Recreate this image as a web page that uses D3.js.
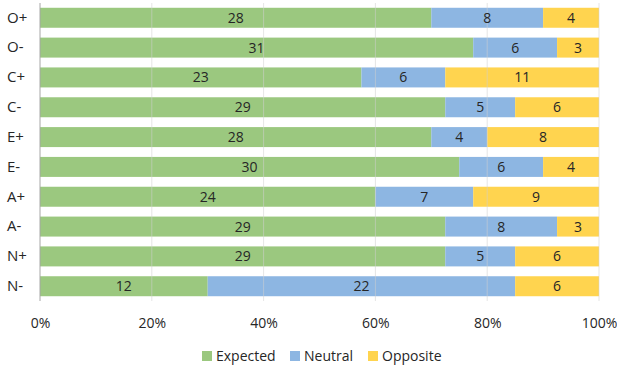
<!DOCTYPE html>
<html><head><meta charset="utf-8">
<script src="https://cdn.jsdelivr.net/npm/d3@7"></script>
<style>body{margin:0;background:#fff}text{font-family:"Open Sans","Noto Sans",sans-serif}</style>
</head><body><svg id="c" width="617" height="368"></svg>
<script>
const categories = ["O+","O-","C+","C-","E+","E-","A+","A-","N+","N-"];
const seriesNames = ["Expected","Neutral","Opposite"];
const expected = [28,31,23,29,28,30,24,29,29,12];
const neutral  = [8,6,6,5,4,6,7,8,5,22];
const opposite = [4,3,11,6,8,4,9,3,6,6];
const tickLabels = ["0%","20%","40%","60%","80%","100%"];
const colors = ["#9bc87f","#8db6e2","#ffd44f"];

const svg = d3.select("#c");
const m = {l:40, r:18, t:3, b:67};
const W = 617, H = 368;
const x = d3.scaleLinear().domain([0,1]).range([m.l, W-m.r]);
const y = d3.scaleBand().domain(categories).range([m.t, H-m.b]).paddingInner(0.33).paddingOuter(0.16);
const series = [expected, neutral, opposite];
const data = categories.map((c,i)=>{
  const tot = expected[i]+neutral[i]+opposite[i];
  let acc = 0;
  return series.map((s,k)=>{ const o={cat:c,k,v:s[i],x0:acc/tot,x1:(acc+s[i])/tot}; acc+=s[i]; return o;});
}).flat();

svg.append("g").selectAll("rect").data(data).join("rect")
  .attr("x",d=>x(d.x0)).attr("width",d=>x(d.x1)-x(d.x0))
  .attr("y",d=>y(d.cat)).attr("height",y.bandwidth())
  .attr("fill",d=>colors[d.k]);

// grid lines
svg.append("g").selectAll("line").data([0.2,0.4,0.6,0.8,1]).join("line")
  .attr("x1",d=>x(d)).attr("x2",d=>x(d)).attr("y1",m.t).attr("y2",H-m.b)
  .attr("stroke","#d0d0d0").attr("stroke-opacity",0.55).attr("stroke-width",1);
svg.append("line").attr("x1",x(0)).attr("x2",x(0)).attr("y1",m.t).attr("y2",H-m.b)
  .attr("stroke","#a6a6a6").attr("stroke-width",1);

svg.append("g").selectAll("text").data(data).join("text")
  .attr("x",d=>(x(d.x0)+x(d.x1))/2).attr("y",d=>y(d.cat)+y.bandwidth()/2)
  .attr("dy","0.36em").attr("text-anchor","middle").attr("font-size",14).attr("fill","#262626")
  .text(d=>d.v);

const yAxis = d3.axisLeft(y).tickSize(0).tickPadding(10);
const ga = svg.append("g").attr("transform",`translate(${m.l-2},0)`).call(yAxis);
ga.select(".domain").remove();
ga.selectAll("text").attr("font-size",15).attr("fill","#262626").attr("text-anchor","start").attr("x",-m.l+9);

const xAxis = d3.axisBottom(x).tickValues([0,0.2,0.4,0.6,0.8,1]).tickFormat((d,i)=>tickLabels[i]).tickSize(0).tickPadding(17);
const gx = svg.append("g").attr("transform",`translate(0,${H-m.b})`).call(xAxis);
gx.select(".domain").remove();
gx.selectAll("text").attr("font-size",14).attr("fill","#262626");

const lg = svg.append("g").attr("transform","translate(0,356)");
const lx = [202,290,368];
seriesNames.forEach((n,i)=>{
  lg.append("rect").attr("x",lx[i]).attr("y",-5).attr("width",10).attr("height",10).attr("fill",colors[i]);
  lg.append("text").attr("x",lx[i]+14).attr("y",0).attr("dy","0.36em").attr("font-size",14).attr("fill","#262626").text(n);
});
</script></body></html>
